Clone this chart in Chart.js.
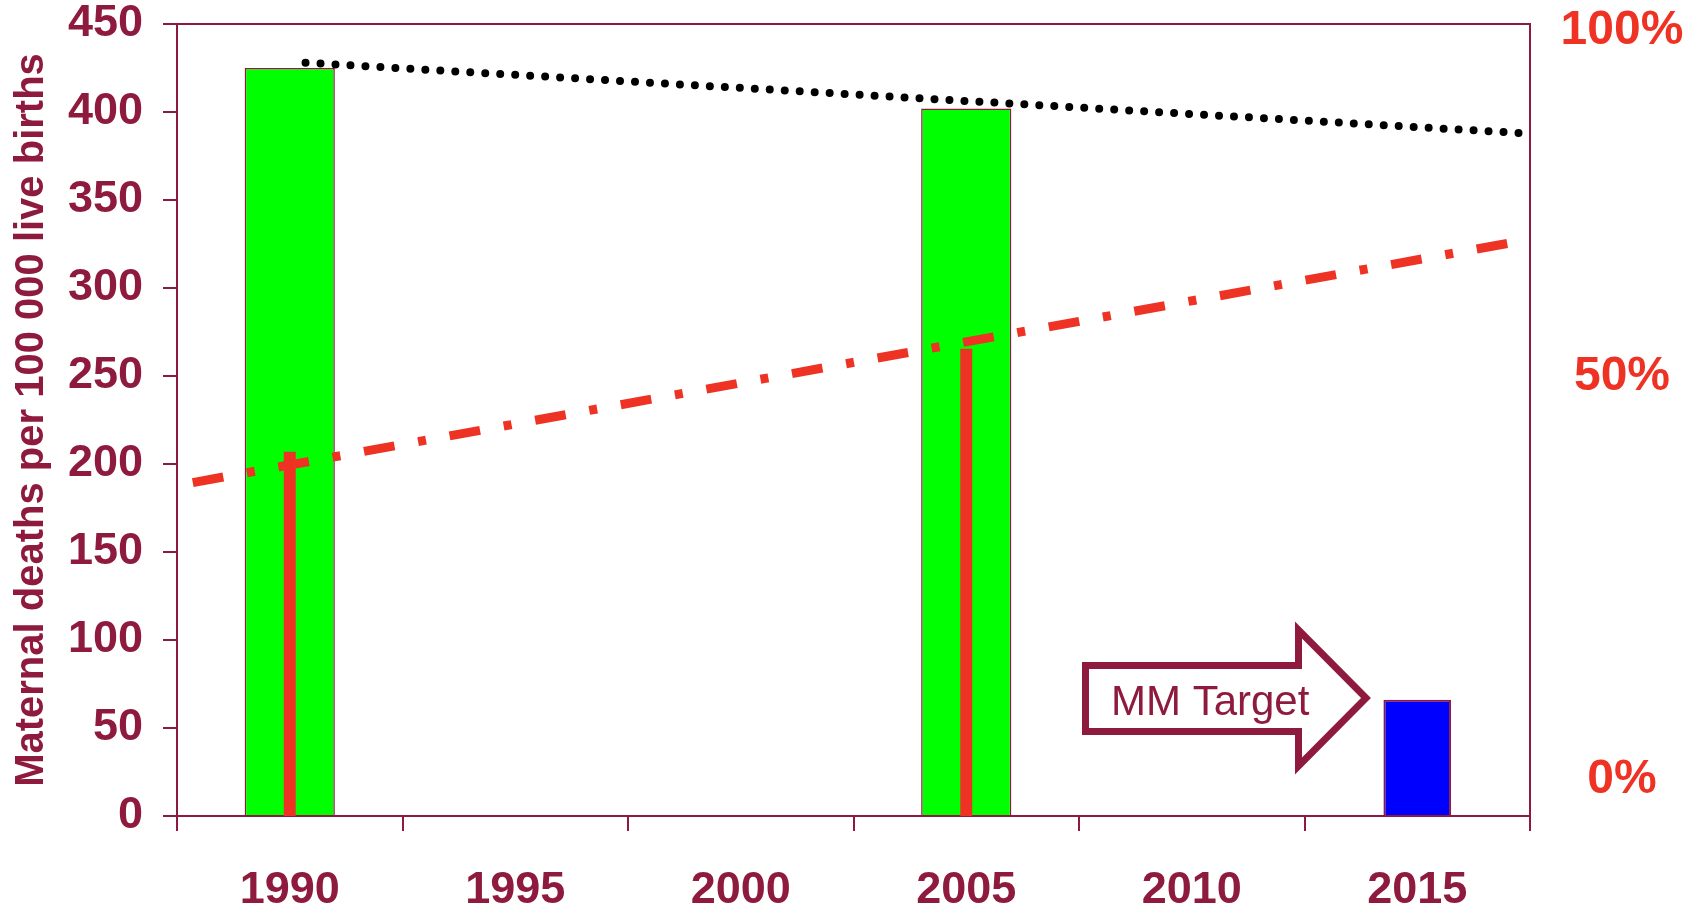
<!DOCTYPE html>
<html>
<head>
<meta charset="utf-8">
<script src="https://cdn.jsdelivr.net/npm/chart.js@4.4.1/dist/chart.umd.min.js"></script>
<style>
  html, body { margin: 0; padding: 0; background: #fff; }
  #wrap { width: 1698px; height: 908px; position: relative; }
</style>
</head>
<body>
<div id="wrap"><canvas id="mmChart"></canvas></div>
<script>
// ===== DATA =====
const YEARS = ['1990', '1995', '2000', '2005', '2010', '2015'];
const mmRatio = [425, null, null, 402, null, null];      // green bars
const skilledPct = [46, null, null, 59, null, null];     // red bars (right %)
const mmTarget = [null, null, null, null, null, 66];     // blue bar
const mmTrend = [{ x: 1990.35, y: 428 }, { x: 2017.3, y: 388 }];     // black dots
const skilledTrend = [{ x: 1987.85, y: 42.1 }, { x: 2017.1, y: 72.4 }]; // red dash-dot
const pctLabels = ['100%', '50%', '0%'];
const Y_TITLE = 'Maternal deaths per 100 000 live births';
const ARROW_TEXT = 'MM Target';

// ===== STYLE =====
const MAROON = '#8E1B3E';
const RED = '#EE3224';
const FONT = '"Liberation Sans", Arial, sans-serif';

// right side % labels + target arrow (annotations)
const extras = {
    id: 'extras',
    afterDraw(chart) {
        const { ctx, chartArea: a } = chart;
        ctx.save();

        // % labels
        ctx.fillStyle = RED;
        ctx.font = `bold 48px ${FONT}`;
        ctx.textAlign = 'center';
        ctx.textBaseline = 'middle';
        const pctY = [a.top + 7, a.top + 353, a.bottom - 36];
        pctLabels.forEach((t, i) => ctx.fillText(t, a.right + 92, pctY[i]));

        // arrow
        const L = a.left, T = a.top;
        const pts = [
            [908.5, 641.5], [1121.5, 641.5], [1121.5, 606], [1189, 674],
            [1121.5, 742], [1121.5, 707.5], [908.5, 707.5]
        ];
        ctx.beginPath();
        pts.forEach(([x, y], i) => i ? ctx.lineTo(L + x, T + y) : ctx.moveTo(L + x, T + y));
        ctx.closePath();
        ctx.fillStyle = '#fff';
        ctx.fill();
        ctx.lineWidth = 7;
        ctx.lineJoin = 'miter';
        ctx.strokeStyle = MAROON;
        ctx.stroke();

        ctx.fillStyle = MAROON;
        ctx.font = `42px ${FONT}`;
        ctx.textAlign = 'left';
        ctx.textBaseline = 'alphabetic';
        ctx.fillText(ARROW_TEXT, L + 934, T + 691);
        ctx.restore();
    }
};

const chart = new Chart(document.getElementById('mmChart'), {
    type: 'bar',
    data: {
        labels: YEARS,
        datasets: [
            {
                type: 'line', data: mmTrend, xAxisID: 'x2', yAxisID: 'y',
                borderColor: '#000', borderWidth: 8, borderDash: [0, 15],
                borderCapStyle: 'round', pointRadius: 0, order: 0
            },
            {
                type: 'line', data: skilledTrend, xAxisID: 'x2', yAxisID: 'y2',
                borderColor: RED, borderWidth: 9, borderDash: [31, 24, 8, 24],
                borderCapStyle: 'butt', pointRadius: 0, order: 1
            },
            {
                data: skilledPct, yAxisID: 'y2', backgroundColor: RED, borderWidth: 0,
                barPercentage: 0.053, categoryPercentage: 1, grouped: false, order: 2
            },
            {
                data: mmRatio, yAxisID: 'y', backgroundColor: '#00FF00',
                borderColor: MAROON, borderWidth: 1.5,
                barPercentage: 0.4, categoryPercentage: 1, grouped: false, order: 3
            },
            {
                data: mmTarget, yAxisID: 'y', backgroundColor: '#0000FF',
                borderColor: MAROON, borderWidth: 2,
                barPercentage: 0.3, categoryPercentage: 1, grouped: false, order: 4
            }
        ]
    },
    options: {
        responsive: true,
        maintainAspectRatio: false,
        animation: false,
        layout: { padding: { top: 24, left: 0, right: 0, bottom: 0 } },
        plugins: { legend: { display: false }, tooltip: { enabled: false } },
        scales: {
            x: {
                position: 'bottom',
                offset: true,
                grid: { offset: true, drawOnChartArea: false, tickLength: 15, color: MAROON, lineWidth: 2 },
                border: { color: MAROON, width: 2 },
                ticks: { color: MAROON, font: { family: FONT, size: 45, weight: 'bold' }, padding: 33, maxRotation: 0 },
                afterFit: s => { s.height = 92; s.paddingLeft = 0; s.paddingRight = 0; }
            },
            x2: {
                type: 'linear', min: 1987.5, max: 2017.5, display: false,
                offset: false, grid: { offset: false }
            },
            y: {
                position: 'left',
                min: 0, max: 450,
                ticks: { stepSize: 50, color: MAROON, font: { family: FONT, size: 45, weight: 'bold' }, padding: 20 },
                grid: {
                    drawOnChartArea: true, tickLength: 14, lineWidth: 2,
                    color: c => c.tick && c.tick.value === 450 ? MAROON : 'rgba(0,0,0,0)',
                    tickColor: MAROON
                },
                border: { color: MAROON, width: 2 },
                title: {
                    display: true, text: Y_TITLE, color: MAROON,
                    font: { family: FONT, size: 40, weight: 'bold' }, padding: { top: 8, bottom: 0 }
                },
                afterFit: s => { s.width = 177; s.paddingTop = 0; s.paddingBottom = 0; }
            },
            y2: {
                position: 'right',
                min: 0, max: 100,
                ticks: { display: false },
                grid: { display: false },
                border: { color: MAROON, width: 2 },
                afterFit: s => { s.width = 168; s.paddingTop = 0; s.paddingBottom = 0; }
            }
        }
    },
    plugins: [extras]
});
</script>
</body>
</html>
